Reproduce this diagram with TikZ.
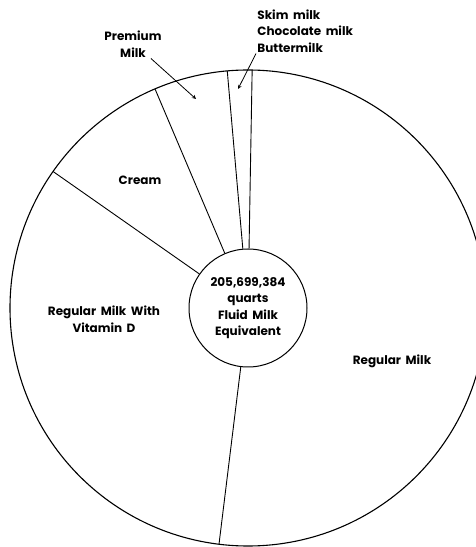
\documentclass[tikz,border=0pt]{standalone}
\usepackage{fontspec}
\setmainfont{Poppins}[WordSpace=1.8]
\usepackage{tikz}

\tikzset{
  lbl/.style={font=\bfseries\fontsize{12}{16.5}\selectfont, inner sep=1pt, align=center},
  arr/.style={->, >=stealth, line width=0.8pt},
}

\begin{document}
\begin{tikzpicture}[x=1pt, y=1pt, line width=0.9pt]
\useasboundingbox (0,0) rectangle (476,547);
\clip (0,0) rectangle (476,547);
\coordinate (o) at (248,239);
\draw[line width=1.1pt] (o) circle (238);
\node[circle, draw, line width=1pt, minimum size=118pt, lbl] (tot) at (o)
  {205,699,384\\quarts\\Fluid Milk\\Equivalent};
% slice borders
\foreach \a in {263,145,113,95,89}
  \draw (tot.\a) -- ([shift={(\a:238)}]o);
% slice names
\node[lbl] (cream) at (140,367) {Cream};
\node[lbl] (vitd) at (104,228) {Regular Milk With\\Vitamin D};
\node[lbl] (reg) at (392,186) {Regular Milk};
\node[lbl] (prem) at (133,503) {Premium\\Milk};
\node[lbl, align=left, anchor=north west] (skim) at (256,539) {Skim milk\\Chocolate milk\\Buttermilk};
\coordinate (premtip) at (196,448);
\coordinate (skimtip) at (238,458);
\draw[arr] ([xshift=-12pt]prem.south east) -- (premtip);
\draw[arr] (skim.south west) -- (skimtip);
\end{tikzpicture}
\end{document}
